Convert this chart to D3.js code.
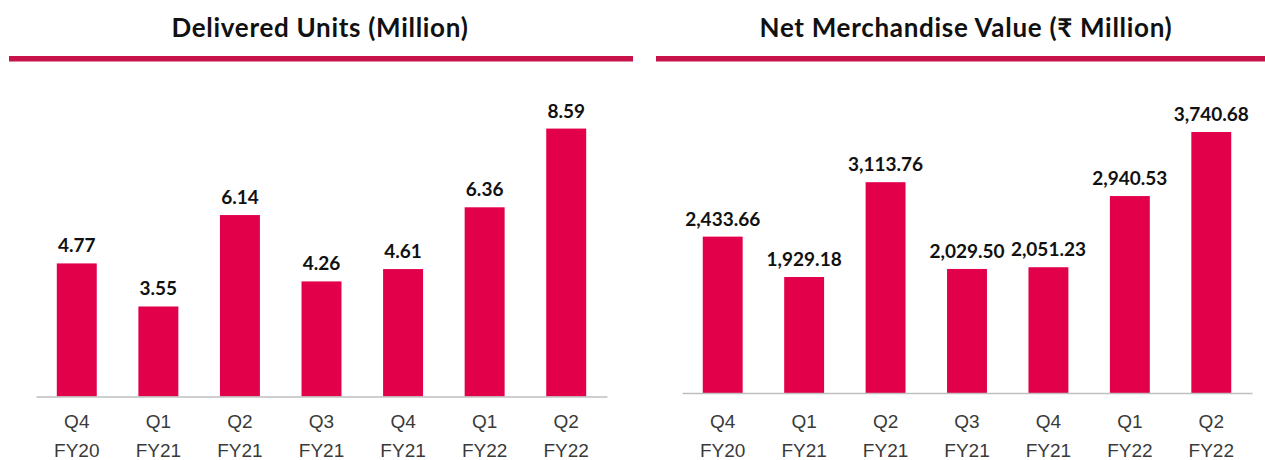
<!DOCTYPE html>
<html>
<head>
<meta charset="utf-8">
<script src="https://cdn.jsdelivr.net/npm/d3@7"></script>
<style>
  body { margin: 0; background: #fff; }
  svg { display: block; font-family: Lato, "Noto Sans", sans-serif; }
</style>
</head>
<body>
<svg id="chart" width="1265" height="460"></svg>
<script>
// quarters shown under both panels
const quarters = ['Q4', 'Q1', 'Q2', 'Q3', 'Q4', 'Q1', 'Q2'];
const fiscalYears = ['FY20', 'FY21', 'FY21', 'FY21', 'FY21', 'FY22', 'FY22'];

const deliveredUnits = [4.77, 3.55, 6.14, 4.26, 4.61, 6.36, 8.59];
const netMerchandiseValue = [2433.66, 1929.18, 3113.76, 2029.50, 2051.23, 2940.53, 3740.68];

const titles = ['Delivered Units (Million)', 'Net Merchandise Value (\u20B9 Million)'];

const colors = {
    bar: '#e2004a',
    rule: '#c8124a',
    axis: '#bfbfbf',
    label: '#111',
    tick: '#3a3a3a'
};

const svg = d3.select('#chart');
const tickLine1 = 428, tickLine2 = 457; // absolute baselines of the two tick rows

function barPanel(opts) {
    const g = svg.append('g');
    const keys = quarters.map((q, i) => i);

    // title + thick underline
    g.append('text')
        .attr('x', opts.titleX)
        .attr('y', 37)
        .attr('text-anchor', 'middle')
        .style('font-size', '26px')
        .style('font-weight', 'bold')
        .style('letter-spacing', '0.7px')
        .style('fill', '#111')
        .text(opts.title);

    g.append('rect')
        .attr('x', opts.ruleX[0])
        .attr('y', 56)
        .attr('width', opts.ruleX[1] - opts.ruleX[0])
        .attr('height', 5.5)
        .attr('fill', colors.rule);

    const x = d3.scaleBand()
        .domain(keys)
        .range(opts.xRange)
        .paddingInner(0.51)
        .paddingOuter(0.255);

    const y = d3.scaleLinear()
        .domain(opts.yDomain)
        .range([opts.baseline, opts.baseline - (opts.yDomain[1] - opts.yDomain[0]) * opts.pxPerUnit]);

    g.selectAll('rect.bar')
        .data(opts.values)
        .join('rect')
        .attr('class', 'bar')
        .attr('x', (d, i) => x(i))
        .attr('y', d => y(d))
        .attr('width', x.bandwidth())
        .attr('height', d => y(opts.yDomain[0]) - y(d))
        .attr('fill', colors.bar);

    g.selectAll('text.value')
        .data(opts.values)
        .join('text')
        .attr('class', 'value')
        .attr('x', (d, i) => x(i) + x.bandwidth() / 2)
        .attr('y', d => y(d) - 11)
        .attr('text-anchor', 'middle')
        .style('font-size', '19px')
        .style('font-weight', 'bold')
        .style('fill', colors.label)
        .text(d => opts.format(d));

    // x axis: thin grey baseline, two-line tick labels
    const axis = g.append('g')
        .attr('transform', `translate(0,${opts.baseline})`)
        .call(d3.axisBottom(x).tickSize(0).tickSizeOuter(0).tickFormat(() => ''));

    axis.select('.domain')
        .attr('stroke', colors.axis)
        .attr('stroke-width', 1.5);

    axis.selectAll('.tick text').remove();
    axis.selectAll('.tick').each(function(i) {
        const t = d3.select(this).append('text')
            .attr('text-anchor', 'middle')
            .style('font-size', '19px')
            .style('fill', colors.tick);
        t.append('tspan').attr('x', 0).attr('y', tickLine1 - opts.baseline).text(quarters[i]);
        t.append('tspan').attr('x', 0).attr('y', tickLine2 - opts.baseline).text(fiscalYears[i]);
    });
}

barPanel({
    title: titles[0],
    titleX: 320,
    ruleX: [9, 633],
    values: deliveredUnits,
    xRange: [36, 607],
    baseline: 396.5,
    yDomain: [1, 9],
    pxPerUnit: 35.3,
    format: d3.format('.2f')
});

barPanel({
    title: titles[1],
    titleX: 966,
    ruleX: [656, 1265],
    values: netMerchandiseValue,
    xRange: [682, 1252],
    baseline: 393,
    yDomain: [480, 4000],
    pxPerUnit: 0.08004,
    format: d3.format(',.2f')
});
</script>
</body>
</html>
